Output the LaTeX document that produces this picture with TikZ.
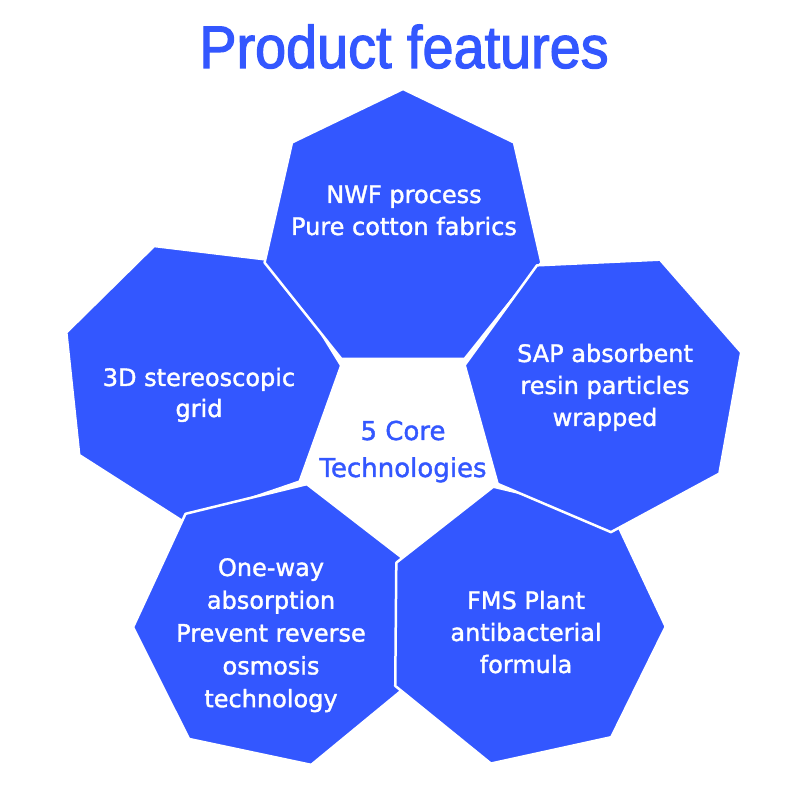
\documentclass[tikz,border=0pt]{standalone}
\usepackage{fontspec}
\setmainfont{DejaVu Sans}
\newfontfamily\hfont[FakeBold=1.5]{DejaVu Sans}
\newfontfamily\titlefont[FakeStretch=0.93,FakeBold=2]{Liberation Sans}
\usetikzlibrary{calc}
\definecolor{fblue}{RGB}{51,87,255}
\newcommand\stackedlines[2]{\vtop{\baselineskip=#1\relax\halign{\hfil##\hfil\cr#2\crcr}}}
\newcommand\heptagon[3]{%
  \path[hept] ($(#1)+(#2:#3)$) \foreach \k in {1,...,6}{ -- ($(#1)+({#2+\k*360/7}:#3)$) } -- cycle;}
\begin{document}
\begin{tikzpicture}[x=1pt,y=1pt,
  hept/.style={fill=fblue, draw=white, line width=2.5pt, line join=round},
  htext/.style={text=white, font=\hfont\fontsize{24}{32}\selectfont, inner sep=0pt, anchor=base},
  ctext/.style={text=fblue, font=\hfont\fontsize{26}{37}\selectfont, inner sep=0pt, anchor=base},
  titletext/.style={text=fblue, font=\titlefont\fontsize{60}{72}\selectfont, inner sep=0pt, anchor=base}]
\fill[white] (0,0) rectangle (800,800);
\useasboundingbox (0,0) rectangle (800,800);
\coordinate (cL) at (200,419.6);
\coordinate (cT) at (403,569);
\coordinate (cBL) at (277,175);
\coordinate (cBR) at (523.7,174.6);
\coordinate (cR) at (604.4,409.7);
\heptagon{cL}{6}{142}
\heptagon{cT}{90}{142}
\heptagon{cBL}{26.6}{144}
\heptagon{cBR}{-0.5}{142}
\heptagon{cR}{15.5}{142}
\node[titletext] (title) at (404,732) {Product features};
\node[htext] (tT) at (404,597) {\stackedlines{32pt}{NWF process\cr Pure cotton fabrics}};
\node[htext] (tL) at (199,414) {\stackedlines{31pt}{3D stereoscopic\cr grid}};
\node[htext] (tR) at (605,438) {\stackedlines{32pt}{SAP absorbent\cr resin particles\cr wrapped}};
\node[htext] (tBL) at (271,224) {\stackedlines{32.8pt}{One-way\cr absorption\cr Prevent reverse\cr osmosis\cr technology}};
\node[htext] (tBR) at (526,191) {\stackedlines{32pt}{FMS Plant\cr antibacterial\cr formula}};
\node[ctext] (center) at (403,360) {\stackedlines{37pt}{5 Core\cr Technologies}};
\end{tikzpicture}
\end{document}
